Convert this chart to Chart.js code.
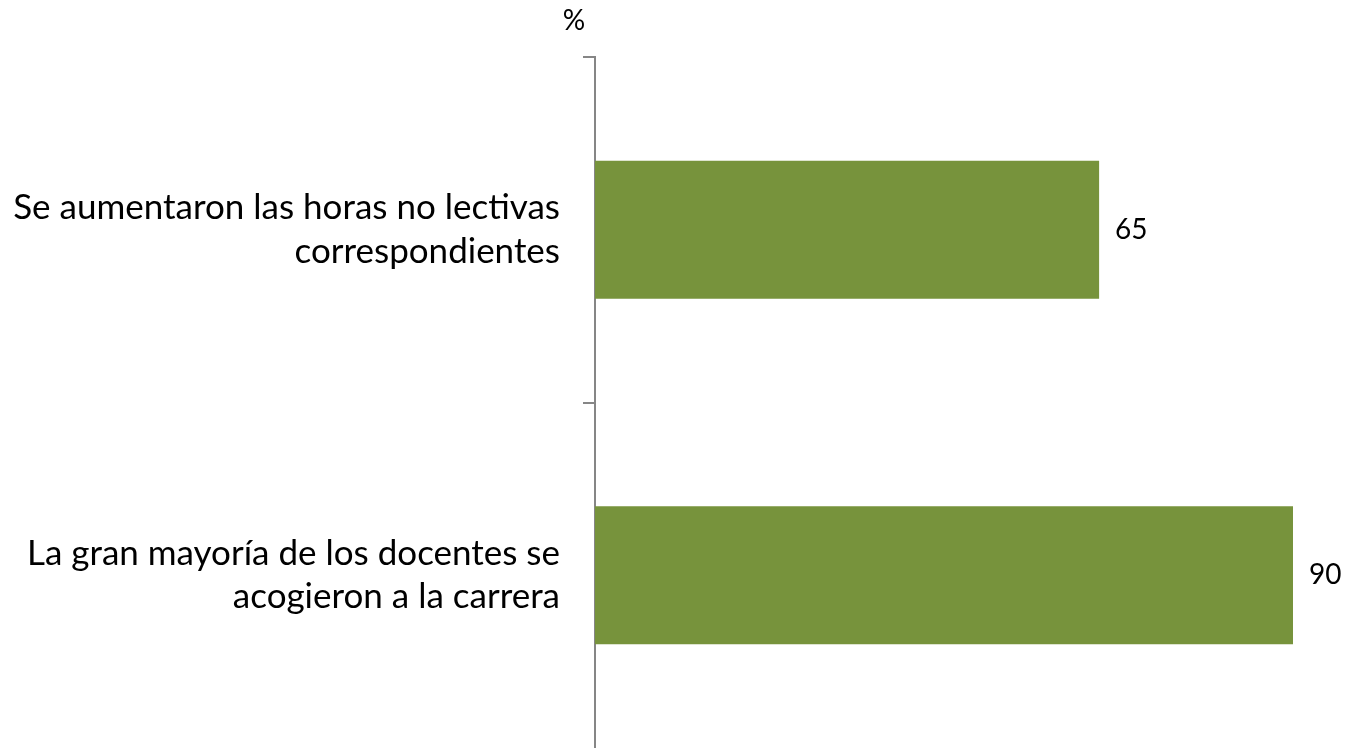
<!DOCTYPE html>
<html><head><meta charset="utf-8">
<script src="https://cdn.jsdelivr.net/npm/chart.js@4"></script>
<style>html,body{margin:0;padding:0;background:#fff}#wrap{width:1348px;height:748px}</style>
</head><body><div id="wrap"><canvas id="c" width="1348" height="748"></canvas></div>
<script>
const categories = [["Se aumentaron las horas no lectivas","correspondientes"],["La gran mayoría de los docentes se","acogieron a la carrera"]];
const values = [65, 90];
const unitLabel = "%";
const FONT = "Lato";
const valueLabels = {
  id:'valueLabels',
  afterDatasetsDraw(chart){
    const ctx=chart.ctx; const meta=chart.getDatasetMeta(0);
    ctx.save(); ctx.font='28px '+FONT; ctx.fillStyle='#000'; ctx.textBaseline='middle'; ctx.textAlign='left';
    meta.data.forEach((b,i)=>{ ctx.fillText(String(values[i]), b.x+16, b.y); });
    ctx.textAlign='center'; ctx.fillText(unitLabel, 574, 21);
    ctx.restore();
  }
};
const chart = new Chart(document.getElementById('c'),{
  type:'bar',
  data:{labels:categories,datasets:[{data:values,backgroundColor:'#77933C',barPercentage:0.8,categoryPercentage:0.5}]},
  options:{
    indexAxis:'y',responsive:false,animation:false,
    layout:{padding:{top:57,right:55,bottom:0,left:0}},
    plugins:{legend:{display:false},tooltip:{enabled:false}},
    scales:{
      x:{display:false,min:0,max:90},
      y:{
        afterFit(s){s.width=595;s.paddingTop=0;s.paddingBottom=0;},
        grid:{offset:true,drawOnChartArea:false,tickLength:12,lineWidth:2,
              color:c=>((c.type==='tick' && c.index<values.length)?'#868686':'rgba(0,0,0,0)')},
        border:{display:true,color:'#868686',width:2},
        ticks:{padding:23,color:'#000',font:{family:FONT,size:35,lineHeight:1.25},crossAlign:'near'}
      }
    }
  },
  plugins:[valueLabels]
});
</script></body></html>
